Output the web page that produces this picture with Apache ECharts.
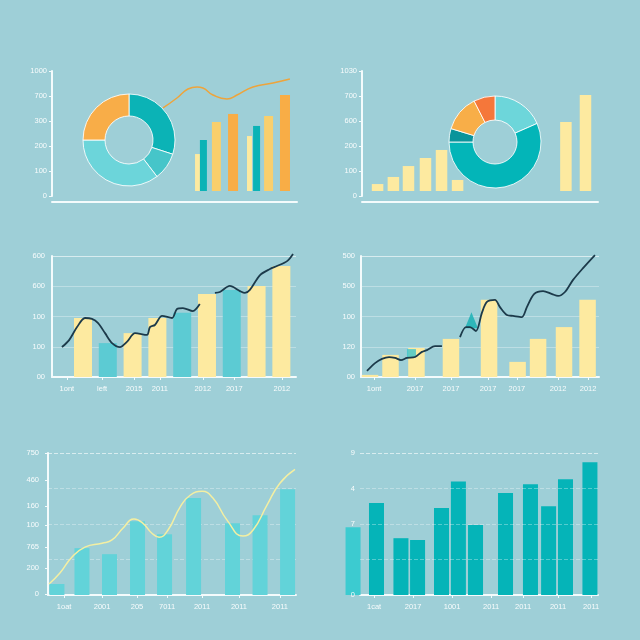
<!DOCTYPE html>
<html><head><meta charset="utf-8">
<script src="https://cdn.jsdelivr.net/npm/echarts@6/dist/echarts.min.js"></script>
<style>html,body{margin:0;padding:0;background:#9ecfd7}#c{width:640px;height:640px}</style>
</head><body><div id="c"></div>
<script>
// ---------- Panel 1 (top-left) ----------
const p1YLabels = ['0','100','200','300','700','1000'];
const p1DonutNames = ['Teal','Aqua','Cyan','Orange'];
const p1DonutValues = [30, 9.6, 35.4, 25];
const p1PaleBars = [[59.4,308],[80.6,458]];
const p1TealBars = [[61.8,425],[83.5,542]];
const p1GoldBars = [[67.1,575],[88.4,625]];
const p1OrangeBars = [[73.9,642],[95.1,800]];
const p1LineX = [45.3,51.0,55.5,59.2,61.6,65.7,71.4,75.5,82.0,90.2,97.1];
const p1LineY = [692,775,850,867,858,800,767,800,867,900,933];
// ---------- Panel 2 (top-right) ----------
const p2YLabels = ['0','100','200','600','700','1030'];
const p2DonutNames = ['Cyan','Teal','Deep','Amber','Coral'];
const p2DonutValues = [18.4, 56.6, 4.7, 12.8, 7.5];
const p2BarX = [6.6,13.3,19.7,26.9,33.7,40.5,86.4,94.7];
const p2BarY = [58,117,208,275,342,92,575,800];
// ---------- Panel 3 (middle-left) ----------
const p3YLabels = ['00','100','100','600','600'];
const p3XLabels = ['1ont','left','2015','2011','2012','2017','2012'];
const p3XTickPos = [0.35,1.77,3.06,4.10,5.83,7.10,9.02];
const p3BarValues = [195,112,145,195,212,274,288,301,367];
const p3BarKinds = ['pale','aqua','pale','pale','aqua','pale','aqua','pale','pale'];
const p3LineX = [0.15,0.44,0.76,1.08,1.36,1.60,1.89,2.17,2.49,2.77,3.10,3.58,3.70,3.90,4.19,4.59,4.79,5.03,5.43,5.71,6.0,6.32,6.52,6.92,7.33,7.53,7.73,8.14,8.54,8.82,9.23,9.47];
const p3LineY = [99,122,165,195,192,179,145,112,99,116,145,139,165,172,202,195,225,228,218,241,null,278,281,301,284,278,288,337,357,367,383,407];
// ---------- Panel 4 (middle-right) ----------
const p4YLabels = ['00','120','100','500','500'];
const p4XLabels = ['1ont','2017','2017','2017','2017','2012','2012'];
const p4XTickPos = [5.5,22.7,37.8,53.4,65.5,82.8,95.4];
const p4BarX = [3.8,12.4,23.3,37.8,53.8,65.8,74.4,85.3,95.2];
const p4BarY = [7,73,96,126,255,50,126,165,255];
const p4LineX = [2.5,5.9,8.8,11.8,14.3,16.8,19.3,22.7,25.6,27.7,31.1,34.0,37.8,41.6,44.1,45.8,48.3,50.8,52.9,56.3,58.4,61.3,63.9,67.6,69.7,72.7,76.5,80.3,82.8,85.7,89.1,93.3,98.3];
const p4LineY = [20,46,60,66,63,56,63,66,83,89,102,102,null,132,165,165,152,212,248,255,231,205,202,198,231,274,284,274,268,281,321,360,403];
const p4Square = [[21.2,79]];
const p4Triangle = [[46.4,188]];
// ---------- Panel 5 (bottom-left) ----------
const p5YLabels = ['0','200','765','100','160','460','750'];
const p5YTickPos = [3,76,135,197,250,323,399];
const p5XLabels = ['1oat','2001','205','7011','2011','2011','2011'];
const p5XTickPos = [6.5,21.8,35.9,48.0,62.1,77.0,93.5];
const p5BarX = [3.6,13.7,24.8,36.1,47.0,58.7,74.4,85.5,96.6];
const p5BarY = [31,132,115,208,171,273,202,225,298];
const p5LineX = [0.4,4.8,9.7,14.9,21.8,25.8,30.2,34.7,38.3,41.9,44.8,48.4,53.2,57.3,62.1,66.5,72.2,78.6,82.7,88.3,93.5,99.6];
const p5LineY = [31,62,107,135,146,155,188,214,202,174,163,183,247,281,292,273,211,166,183,253,315,354];
// ---------- Panel 6 (bottom-right) ----------
const p6YLabels = ['0','','7','4','9'];
const p6XLabels = ['1cat','2017','1001','2011','2011','2011','2011'];
const p6XTickPos = [5.9,22.3,38.7,55.1,68.5,83.2,97.1];
const p6BarX = [2.8,12.1,21.8,28.4,37.9,44.6,51.4,63.3,73.2,80.4,87.1,96.8];
const p6BarY = [191,259,160,155,245,320,197,287,312,250,326,374];
const p6BarKinds = ['light','main','main','main','main','main','main','main','main','main','main','main'];

// ---------- styling ----------
const TXT = 'rgba(255,255,255,0.93)';
const LINE = '#f4fbfc';
const FONT = 'Liberation Sans';
const FS = 7.5;
const GRID_FAINT = 'rgba(255,255,255,0.32)';
const GRID_TOP = 'rgba(255,255,255,0.6)';
const COLORS = {
  pale:'#fdeaa0', aqua:'#5ccbd3', teal:'#0bb3b6', gold:'#f9cf6c', orange:'#f8ad46',
  navy:'#1c3a4a', main:'#05b4b8', light:'#3ccbd0', p5bar:'#62d3d9'
};

const grid=[], xAxis=[], yAxis=[], series=[];
function addGrid(l,t,w,h){ grid.push({left:l, top:t, width:w, height:h}); return grid.length-1; }
function addX(o){ xAxis.push(o); return xAxis.length-1; }
function addY(o){ yAxis.push(o); return yAxis.length-1; }
function hidden(gi,min,max){ return {type:'value', gridIndex:gi, min:min, max:max, show:false}; }
function lbl(extra){ return Object.assign({color:TXT, fontFamily:FONT, fontSize:FS}, extra); }
function nearest(arr,v){ let bi=0,bd=Infinity; arr.forEach((a,i)=>{const d=Math.abs(a-v); if(d<bd){bd=d;bi=i;}}); return bi; }
function zip(xs,ys){ return xs.map((x,i)=>[x,ys[i]]); }
const axisLineOn = {show:true, onZero:false, lineStyle:{color:LINE, width:2}};
const noTick = {show:false}, noSplit = {show:false}, noLabel = {show:false};

// ===== Panel 1 =====
{
  const gf = addGrid(52,71,245,125);
  addY({type:'value', gridIndex:gf, min:0, max:5, interval:1, axisLine:axisLineOn,
    axisTick:{show:true, length:3, lineStyle:{color:LINE}}, splitLine:noSplit,
    axisLabel:lbl({margin:5, formatter:v=>p1YLabels[Math.round(v)]})});
  addX({type:'value', gridIndex:gf, min:0, max:1, position:'bottom', offset:6, axisLine:axisLineOn,
    axisTick:noTick, axisLabel:noLabel, splitLine:noSplit});
  const gd = addGrid(52,71,245,120);
  const yd = addY(hidden(gd,0,1000));
  [[p1PaleBars,COLORS.pale,5],[p1TealBars,COLORS.teal,7],[p1GoldBars,COLORS.gold,9],[p1OrangeBars,COLORS.orange,10]]
  .forEach(([d,c,w])=>{
    const xi = addX(hidden(gd,0,100));
    series.push({type:'bar', xAxisIndex:xi, yAxisIndex:yd, barWidth:w, data:d, itemStyle:{color:c}, silent:true});
  });
  const xl = addX(hidden(gd,0,100));
  series.push({type:'line', xAxisIndex:xl, yAxisIndex:yd, data:zip(p1LineX,p1LineY), smooth:true, symbol:'none',
    lineStyle:{color:'#eea43b', width:1.5}, silent:true});
  series.push({type:'pie', center:[129,140], radius:[24,46], startAngle:90, silent:true,
    label:{show:false}, labelLine:{show:false},
    itemStyle:{borderColor:'rgba(255,255,255,0.85)', borderWidth:1},
    data:p1DonutNames.map((n,i)=>({name:n, value:p1DonutValues[i],
      itemStyle:{color:['#0bb3b6','#46c5c9','#6cd5da','#f8ad48'][i]}}))});
}
// ===== Panel 2 =====
{
  const gf = addGrid(362,71,236,125);
  addY({type:'value', gridIndex:gf, min:0, max:5, interval:1, axisLine:axisLineOn,
    axisTick:{show:true, length:3, lineStyle:{color:LINE}}, splitLine:noSplit,
    axisLabel:lbl({margin:5, formatter:v=>p2YLabels[Math.round(v)]})});
  addX({type:'value', gridIndex:gf, min:0, max:1, position:'bottom', offset:6, axisLine:axisLineOn,
    axisTick:noTick, axisLabel:noLabel, splitLine:noSplit});
  const gd = addGrid(362,71,236,120);
  const yd = addY(hidden(gd,0,1000));
  const xi = addX(hidden(gd,0,100));
  series.push({type:'bar', xAxisIndex:xi, yAxisIndex:yd, barWidth:11.5, data:zip(p2BarX,p2BarY),
    itemStyle:{color:COLORS.pale}, silent:true});
  series.push({type:'pie', center:[495,142], radius:[22,46], startAngle:90, silent:true,
    label:{show:false}, labelLine:{show:false},
    itemStyle:{borderColor:'rgba(255,255,255,0.85)', borderWidth:1},
    data:p2DonutNames.map((n,i)=>({name:n, value:p2DonutValues[i],
      itemStyle:{color:['#6dd6da','#03b5b8','#0a949b','#f8ae48','#f5773a'][i]}}))});
}
// ===== Panel 3 =====
{
  const g = addGrid(52,256,244,121);
  const y = addY({type:'value', gridIndex:g, min:0, max:400, interval:100, axisLine:axisLineOn, axisTick:noTick,
    splitLine:{show:true, lineStyle:{color:['rgba(0,0,0,0)',GRID_FAINT,GRID_FAINT,GRID_FAINT,GRID_TOP], width:1}},
    axisLabel:lbl({margin:7, formatter:v=>p3YLabels[Math.round(v/100)]})});
  const x = addX({type:'value', gridIndex:g, min:-0.25, max:9.59, axisLine:axisLineOn,
    axisTick:{show:true, customValues:p3XTickPos, length:3, lineStyle:{color:LINE}}, splitLine:noSplit,
    axisLabel:lbl({margin:8, customValues:p3XTickPos, formatter:v=>p3XLabels[nearest(p3XTickPos,v)]})});
  series.push({type:'bar', xAxisIndex:x, yAxisIndex:y, barWidth:18, z:2, silent:true,
    data:p3BarValues.map((v,i)=>({value:[i+1,v], itemStyle:{color:COLORS[p3BarKinds[i]]}}))});
  series.push({type:'line', xAxisIndex:x, yAxisIndex:y, z:4, data:zip(p3LineX,p3LineY), smooth:0.3, symbol:'none',
    clip:false, lineStyle:{color:COLORS.navy, width:1.8}, silent:true});
}
// ===== Panel 4 =====
{
  const g = addGrid(361,256,238,121);
  const y = addY({type:'value', gridIndex:g, min:0, max:400, interval:100, axisLine:axisLineOn, axisTick:noTick,
    splitLine:{show:true, lineStyle:{color:['rgba(0,0,0,0)',GRID_FAINT,GRID_FAINT,GRID_FAINT,GRID_TOP], width:1}},
    axisLabel:lbl({margin:6, formatter:v=>p4YLabels[Math.round(v/100)]})});
  const x = addX({type:'value', gridIndex:g, min:0, max:100, axisLine:axisLineOn,
    axisTick:{show:true, customValues:p4XTickPos, length:3, lineStyle:{color:LINE}}, splitLine:noSplit,
    axisLabel:lbl({margin:8, customValues:p4XTickPos, formatter:v=>p4XLabels[nearest(p4XTickPos,v)]})});
  series.push({type:'bar', xAxisIndex:x, yAxisIndex:y, barWidth:16.5, z:2, silent:true,
    data:zip(p4BarX,p4BarY), itemStyle:{color:COLORS.pale}});
  series.push({type:'scatter', xAxisIndex:x, yAxisIndex:y, z:3, symbol:'rect', symbolSize:[9,8], silent:true,
    data:p4Square, itemStyle:{color:'#3cc4ca'}});
  series.push({type:'scatter', xAxisIndex:x, yAxisIndex:y, z:3, symbol:'triangle', symbolSize:[13,16], silent:true,
    data:p4Triangle, itemStyle:{color:'#12afb3'}});
  series.push({type:'line', xAxisIndex:x, yAxisIndex:y, z:4, data:zip(p4LineX,p4LineY), smooth:0.3, symbol:'none',
    clip:false, lineStyle:{color:COLORS.navy, width:1.8}, silent:true});
}
// ===== Panel 5 =====
{
  const g = addGrid(48,453,248,142);
  const y = addY({type:'value', gridIndex:g, min:0, max:400, interval:100, position:'left', axisLine:axisLineOn, axisTick:noTick,
    splitLine:{show:true, lineStyle:{color:['rgba(0,0,0,0)',GRID_FAINT,GRID_FAINT,GRID_FAINT,GRID_TOP], width:1, type:[4,2]}},
    axisLabel:noLabel});
  const x = addX({type:'value', gridIndex:g, min:0, max:100, axisLine:axisLineOn,
    axisTick:{show:true, customValues:p5XTickPos, length:3, lineStyle:{color:LINE}}, splitLine:noSplit,
    axisLabel:lbl({margin:8, customValues:p5XTickPos, formatter:v=>p5XLabels[nearest(p5XTickPos,v)]})});
  // label axis on an identical overlay grid so it stays on the left
  const gl = addGrid(48,453,248,142);
  addX(hidden(gl,0,100));
  addY({type:'value', gridIndex:gl, min:0, max:400, position:'left', axisLine:{show:false}, splitLine:noSplit,
    axisTick:{show:true, customValues:p5YTickPos, length:3, lineStyle:{color:LINE}},
    axisLabel:lbl({margin:9, customValues:p5YTickPos, formatter:v=>p5YLabels[nearest(p5YTickPos,v)]})});
  series.push({type:'bar', xAxisIndex:x, yAxisIndex:y, barWidth:15, z:2, silent:true,
    data:zip(p5BarX,p5BarY), itemStyle:{color:COLORS.p5bar}});
  series.push({type:'line', xAxisIndex:x, yAxisIndex:y, z:4, data:zip(p5LineX,p5LineY), smooth:true, symbol:'none',
    clip:false, lineStyle:{color:'#f4efa2', width:1.5}, silent:true});
}
// ===== Panel 6 =====
{
  const gf = addGrid(360,453,238,142);
  addY({type:'value', gridIndex:gf, min:0, max:400, interval:100, z:6, axisLine:{show:false}, axisTick:noTick,
    splitLine:{show:true, lineStyle:{color:['rgba(0,0,0,0)',GRID_FAINT,GRID_FAINT,GRID_FAINT,GRID_TOP], width:1, type:[4,2]}},
    axisLabel:lbl({margin:5, formatter:v=>p6YLabels[Math.round(v/100)]})});
  addX({type:'value', gridIndex:gf, min:0, max:100, axisLine:axisLineOn,
    axisTick:{show:true, customValues:p6XTickPos, length:3, lineStyle:{color:LINE}}, splitLine:noSplit,
    axisLabel:lbl({margin:8, customValues:p6XTickPos, formatter:v=>p6XLabels[nearest(p6XTickPos,v)]})});
  const gd = addGrid(346,453,252,142);
  const yd = addY(hidden(gd,0,400));
  const xd = addX(hidden(gd,0,100));
  series.push({type:'bar', xAxisIndex:xd, yAxisIndex:yd, barWidth:15, z:2, silent:true,
    data:p6BarX.map((xv,i)=>({value:[xv,p6BarY[i]], itemStyle:{color:COLORS[p6BarKinds[i]]}}))});
}

const chart = echarts.init(document.getElementById('c'), null, {width:640, height:640});
chart.setOption({backgroundColor:'#9ecfd7', animation:false, grid:grid, xAxis:xAxis, yAxis:yAxis, series:series});
</script></body></html>
